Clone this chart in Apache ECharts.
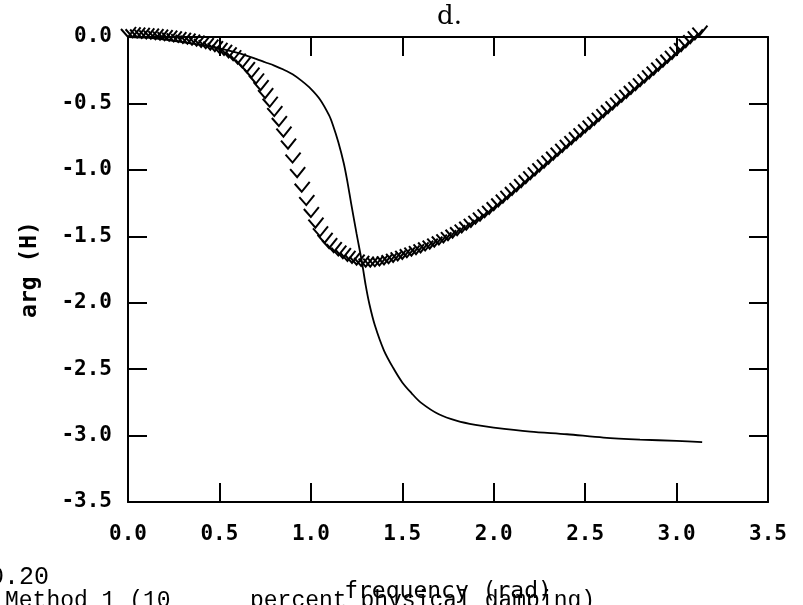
<!DOCTYPE html>
<html>
<head>
<meta charset="utf-8">
<script src="https://cdn.jsdelivr.net/npm/echarts@6/dist/echarts.min.js"></script>
<style>html,body{margin:0;padding:0;background:#fff}#c{width:803px;height:605px}</style>
</head>
<body>
<div id="c"></div>
<script>
// Hatched (check-mark) curve
const freqHatch = [0,0.025,0.05,0.075,0.1,0.125,0.15,0.175,0.2,0.225,0.25,0.275,0.3,0.325,0.35,0.375,0.4,0.425,0.45,0.475,
0.5,0.525,0.55,0.575,0.6,0.625,0.65,0.675,0.7,0.725,0.75,0.775,0.8,0.825,0.85,0.875,0.9,0.925,0.95,0.975,
1.0,1.025,1.05,1.075,1.1,1.125,1.15,1.175,1.2,1.225,1.25,1.275,1.3,1.325,1.35,1.375,1.4,1.425,1.45,1.475,
1.5,1.525,1.55,1.575,1.6,1.625,1.65,1.675,1.7,1.725,1.75,1.775,1.8,1.825,1.85,1.875,1.9,1.925,1.95,1.975,
2.0,2.025,2.05,2.075,2.1,2.125,2.15,2.175,2.2,2.225,2.25,2.275,2.3,2.325,2.35,2.375,2.4,2.425,2.45,2.475,
2.5,2.525,2.55,2.575,2.6,2.625,2.65,2.675,2.7,2.725,2.75,2.775,2.8,2.825,2.85,2.875,2.9,2.925,2.95,2.975,
3.0,3.025,3.05,3.075,3.1,3.125];
const argHatch = [0,-0.002,-0.004,-0.007,-0.010,-0.013,-0.016,-0.020,-0.024,-0.028,-0.033,-0.038,-0.044,-0.050,-0.057,-0.065,-0.074,-0.084,-0.095,-0.107,
-0.120,-0.135,-0.153,-0.175,-0.200,-0.230,-0.265,-0.305,-0.350,-0.400,-0.460,-0.525,-0.595,-0.670,-0.750,-0.840,-0.945,-1.055,-1.165,-1.265,
-1.355,-1.435,-1.500,-1.550,-1.590,-1.620,-1.645,-1.665,-1.685,-1.700,-1.713,-1.723,-1.728,-1.729,-1.726,-1.720,-1.712,-1.703,-1.693,-1.682,
-1.670,-1.658,-1.646,-1.634,-1.621,-1.607,-1.593,-1.578,-1.562,-1.546,-1.529,-1.511,-1.492,-1.472,-1.451,-1.429,-1.406,-1.382,-1.357,-1.331,
-1.304,-1.276,-1.247,-1.218,-1.189,-1.160,-1.130,-1.101,-1.071,-1.042,-1.012,-0.983,-0.953,-0.924,-0.894,-0.865,-0.835,-0.806,-0.777,-0.748,
-0.719,-0.690,-0.661,-0.632,-0.603,-0.574,-0.545,-0.516,-0.487,-0.458,-0.429,-0.400,-0.371,-0.342,-0.312,-0.283,-0.253,-0.224,-0.194,-0.165,
-0.135,-0.106,-0.076,-0.047,-0.018,0.011];

// Solid curve
const freqSolid = [0,0.1,0.2,0.3,0.4,0.5,0.6,0.7,0.75,0.8,0.85,0.9,0.95,1.0,1.05,1.1,1.12,1.15,1.18,1.2,1.22,1.25,1.28,1.3,1.32,1.35,1.4,1.45,1.5,1.55,1.6,1.7,1.8,1.9,2.0,2.2,2.4,2.6,2.8,3.0,3.14];
const argSolid = [0,-0.005,-0.02,-0.04,-0.06,-0.085,-0.12,-0.165,-0.19,-0.215,-0.245,-0.28,-0.33,-0.39,-0.47,-0.59,-0.66,-0.79,-0.95,-1.09,-1.25,-1.48,-1.70,-1.87,-2.01,-2.17,-2.36,-2.49,-2.60,-2.68,-2.75,-2.84,-2.89,-2.92,-2.94,-2.97,-2.99,-3.015,-3.03,-3.04,-3.05];

const xTicks = ['0.0','0.5','1.0','1.5','2.0','2.5','3.0','3.5'];
const yTicks = ['0.0','-0.5','-1.0','-1.5','-2.0','-2.5','-3.0','-3.5'];

const hatchData = freqHatch.map((f, i) => [f, argHatch[i]]);
const solidData = freqSolid.map((f, i) => [f, argSolid[i]]);

const FONT = 'DejaVu Sans Mono';
const axisBase = {
  type: 'value',
  interval: 0.5,
  axisLine: { show: true, onZero: false, lineStyle: { color: '#000', width: 2 } },
  axisTick: { show: true, inside: true, length: 19, lineStyle: { color: '#000', width: 2 } },
  splitLine: { show: false }
};

const chart = echarts.init(document.getElementById('c'), null, { renderer: 'canvas' });
chart.setOption({
  animation: false,
  backgroundColor: '#fff',
  grid: { left: 128, right: 35, top: 37, bottom: 103, containLabel: false, outerBoundsMode: 'none' },
  title: {
    text: 'd.', left: 432, top: -1,
    textStyle: { fontFamily: 'DejaVu Serif', fontSize: 26, fontWeight: 'normal', color: '#000' }
  },
  xAxis: [
    Object.assign({}, axisBase, {
      min: 0, max: 3.5, position: 'bottom',
      name: 'frequency (rad)', nameLocation: 'middle', nameGap: 79,
      nameTextStyle: { fontFamily: FONT, fontSize: 23, color: '#000' },
      axisLabel: { margin: 22, fontFamily: FONT, fontSize: 21, fontWeight: 'bold', color: '#000',
        formatter: v => xTicks[Math.round(v / 0.5)] }
    }),
    Object.assign({}, axisBase, {
      min: 0, max: 3.5, position: 'top', axisLabel: { show: false }
    })
  ],
  yAxis: [
    Object.assign({}, axisBase, {
      min: -3.5, max: 0, position: 'left',
      name: 'arg (H)', nameLocation: 'middle', nameGap: 86, nameRotate: 90,
      nameTextStyle: { fontFamily: FONT, fontSize: 23, fontWeight: 'bold', color: '#000' },
      axisLabel: { margin: 16, fontFamily: FONT, fontSize: 21, fontWeight: 'bold', color: '#000',
        formatter: v => yTicks[Math.round(-v / 0.5)] }
    }),
    Object.assign({}, axisBase, {
      min: -3.5, max: 0, position: 'right', axisLabel: { show: false }
    })
  ],
  graphic: [
    { type: 'text', left: -26, top: 565, style: { text: '10.20', font: '25px "Liberation Mono"', fill: '#000' } },
    { type: 'text', left: 5, top: 589, style: { text: 'Method 1 (10', font: '23px "Liberation Mono"', fill: '#000' } },
    { type: 'text', left: 250, top: 589, style: { text: 'percent physical damping)', font: '23px "Liberation Mono"', fill: '#000' } }
  ],
  series: [
    {
      type: 'line', data: solidData, showSymbol: false, smooth: 0.3, clip: false,
      lineStyle: { color: '#000', width: 1.8 }
    },
    {
      type: 'custom', data: hatchData, clip: false,
      renderItem: function (params, api) {
        const p = api.coord([api.value(0), api.value(1)]);
        return {
          type: 'polyline',
          shape: { points: [[p[0] - 7, p[1] - 8], [p[0], p[1]], [p[0] + 8, p[1] - 10]] },
          style: { stroke: '#000', lineWidth: 2, fill: null }
        };
      }
    }
  ]
});
</script>
</body>
</html>
